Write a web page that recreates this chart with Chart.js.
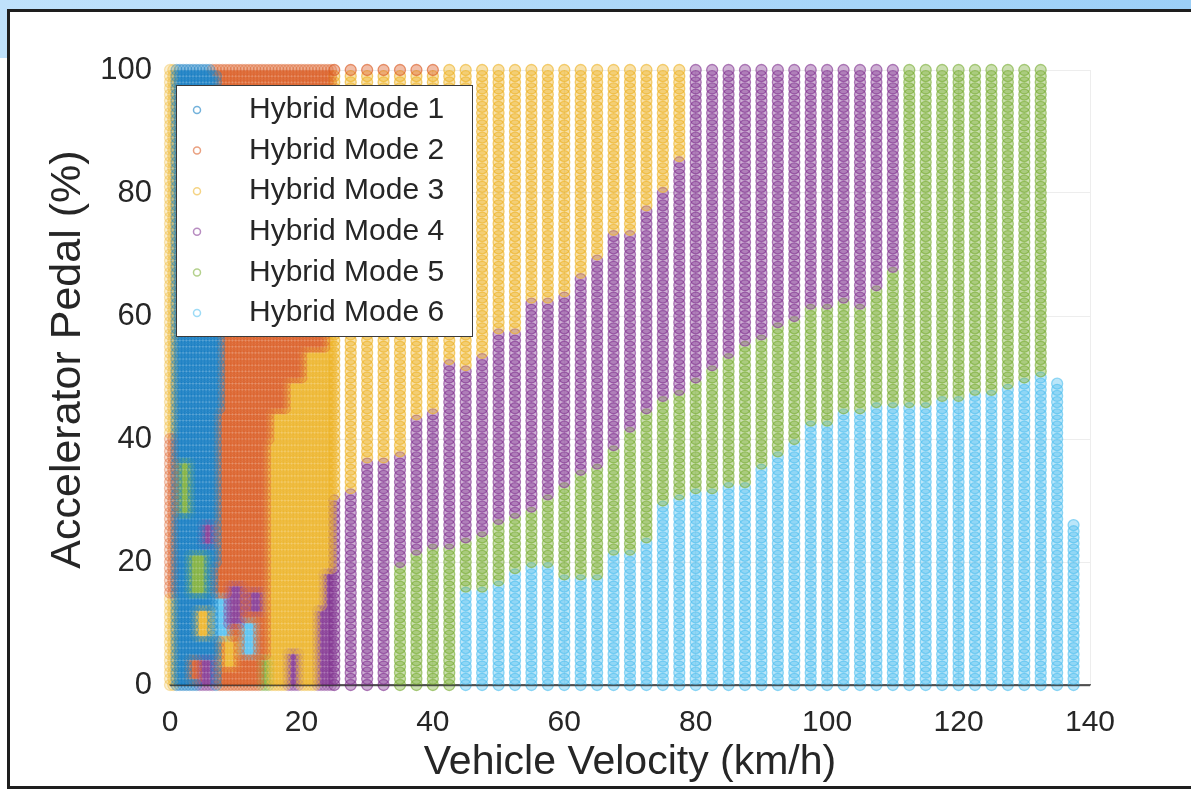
<!DOCTYPE html>
<html>
<head>
<meta charset="utf-8">
<script src="https://cdn.jsdelivr.net/npm/chart.js@4.4.1/dist/chart.umd.min.js"></script>
<style>
  html, body { margin: 0; padding: 0; width: 1191px; height: 789px; overflow: hidden; background: #fff; }
  #sky { position: absolute; left: 0; top: 0; width: 1191px; height: 58px; background: linear-gradient(90deg, #bfe1fb, #9ccff7); }
  #frame { position: absolute; left: 7px; top: 9px; width: 1195px; height: 774px; border: 3px solid #1e1e1e; background: #fff; }
  canvas { position: absolute; left: 0; top: 0; }
</style>
</head>
<body>
<div id="sky"></div>
<div id="frame"></div>
<canvas id="modeChart" width="1191" height="789"></canvas>
<script>
// legend names and matlab default colours
const modeLabels = ["Hybrid Mode 1", "Hybrid Mode 2", "Hybrid Mode 3", "Hybrid Mode 4", "Hybrid Mode 5", "Hybrid Mode 6"];
const modeColors = ["#0072BD", "#D95319", "#EDB120", "#7E2F8E", "#77AC30", "#4DBEEE"];
const xTicks = [0, 20, 40, 60, 80, 100, 120, 140];
const yTicks = [0, 20, 40, 60, 80, 100];

// low speed part (dense columns): mode 1 / mode 2 stop velocity per pedal band
const lowVelocity = [0, 0.5, 1, 1.5, 2, 2.5, 3, 3.5, 4, 4.5, 5, 5.5, 6, 6.5, 7, 7.5, 8, 8.5, 9, 9.5,
  10, 10.5, 11, 11.5, 12, 12.5, 13, 13.5, 14, 14.5, 15, 15.5, 16, 16.5, 17, 17.5, 18, 18.5, 19, 19.5,
  20, 20.5, 21, 21.5, 22, 22.5, 23, 23.5, 24, 24.5];
const mode3Edge = 1; // left-most strip is mode 3
const bandPedal = [0, 5, 10, 20, 40, 45, 50, 55, 60, 70, 90, 100];
const mode1End  = [7.5, 7.5, 7, 7.5, 7.5, 8, 8, 8, 8, 8, 7.5, 6.5];
const mode2End  = [14.5, 15, 15, 15, 15.5, 18, 20.5, 24, 24.5, 24.5, 25, 25];

// high speed part: one column every 2.5 km/h, upper pedal limit of each mode (-1 = none)
const highVelocity = [25, 27.5, 30, 32.5, 35, 37.5, 40, 42.5, 45, 47.5, 50, 52.5, 55, 57.5, 60, 62.5,
  65, 67.5, 70, 72.5, 75, 77.5, 80, 82.5, 85, 87.5, 90, 92.5, 95, 97.5, 100, 102.5, 105, 107.5, 110,
  112.5, 115, 117.5, 120, 122.5, 125, 127.5, 130, 132.5, 135, 137.5];
const mode6Top = [-1, -1, -1, -1, -1, -1, -1, -1, 15, 15, 16, 18, 19, 19, 17, 17, 17, 21, 21, 23, 29, 30,
  31, 31, 32, 32, 35, 37, 39, 42, 42, 44, 44, 45, 45, 45, 45, 46, 46, 47, 47, 48, 49, 50, 49, 26];
const mode5Top = [-1, -1, -1, -1, 19, 21, 22, 22, 23, 24, 26, 27, 28, 30, 32, 34, 35, 38, 41, 44, 46, 47,
  49, 51, 53, 55, 56, 58, 59, 61, 61, 62, 61, 64, 67, 100, 100, 100, 100, 100, 100, 100, 100, 100, 49, 26];
const mode4Top = [30, 31, 36, 36, 37, 43, 44, 52, 51, 53, 57, 57, 62, 62, 63, 66, 69, 73, 73, 77, 80, 85,
  100, 100, 100, 100, 100, 100, 100, 100, 100, 100, 100, 100, 100, -1, -1, -1, -1, -1, -1, -1, -1, -1, -1, -1];
const mode3Top = [100, 100, 100, 100, 100, 100, 100, 100, 100, 100, 100, 100, 100, 100, 100, 100, 100,
  100, 100, 100, 100, 100, -1, -1, -1, -1, -1, -1, -1, -1, -1, -1, -1, -1, -1, -1, -1, -1, -1, -1, -1, -1, -1, -1, -1, -1];

// scattered spots: [v from, v to, pedal from, pedal to, mode]
const patches = [
  [25, 40, 100, 100, 2],
  [0, 0.5, 15, 40, 2],
  [1.5, 3, 28, 36, 5],
  [5, 6.5, 23, 26, 4],
  [3, 5.5, 15, 21, 5],
  [4, 6, 8, 12, 3],
  [7, 9, 8, 14, 6],
  [9, 11, 10, 16, 4],
  [11, 13, 5, 10, 6],
  [8, 10, 3, 7, 3],
  [3, 4.5, 1, 4, 2],
  [4.5, 6.5, 0, 4, 4],
  [12, 14, 12, 15, 4],
  [14, 15, 0, 4, 5],
  [18, 19.5, 0, 5, 4],
  [22.5, 24.5, 0, 12, 4],
  [23.5, 24.5, 12, 18, 4]
];

const pedalGrid = Array.from({ length: 101 }, (_, i) => i);

function lowMode(v, p) {
  if (v < mode3Edge) return 3;
  let k = 0;
  bandPedal.forEach((b, i) => { if (p >= b) k = i; });
  if (v < mode1End[k]) return 1;
  if (v < mode2End[k]) return 2;
  return 3;
}

function highMode(i, p) {
  if (p <= mode6Top[i]) return 6;
  if (p <= mode5Top[i]) return 5;
  if (p <= mode4Top[i]) return 4;
  if (p <= mode3Top[i]) return 3;
  return 0;
}

function patchMode(v, p, m) {
  patches.forEach(r => {
    if (v >= r[0] && v <= r[1] && p >= r[2] && p <= r[3]) m = r[4];
  });
  return m;
}

const points = [[], [], [], [], [], []];
lowVelocity.forEach(v => {
  pedalGrid.forEach(p => {
    const m = patchMode(v, p, lowMode(v, p));
    points[m - 1].push({ x: v, y: p });
  });
});
highVelocity.forEach((v, i) => {
  pedalGrid.forEach(p => {
    let m = highMode(i, p);
    if (m === 0) return;
    m = patchMode(v, p, m);
    points[m - 1].push({ x: v, y: p });
  });
});

function rgba(hex, a) {
  const n = parseInt(hex.slice(1), 16);
  return `rgba(${(n >> 16) & 255}, ${(n >> 8) & 255}, ${n & 255}, ${a})`;
}

// legend drawn as a box inside the axes, like matlab does
const legendBox = {
  id: 'legendBox',
  afterDatasetsDraw(chart) {
    const { ctx, chartArea } = chart;
    const x = chartArea.left + 6, y = chartArea.top + 15, w = 296, h = 251;
    ctx.save();
    ctx.fillStyle = '#fff';
    ctx.fillRect(x, y, w, h);
    ctx.strokeStyle = '#3a3a3a';
    ctx.lineWidth = 1;
    ctx.strokeRect(x + 0.5, y + 0.5, w, h);
    ctx.font = '30px "Liberation Sans", Arial, sans-serif';
    ctx.textBaseline = 'middle';
    chart.data.datasets.forEach((ds, i) => {
      const cy = y + 25 + i * 40.6;
      ctx.beginPath();
      ctx.arc(x + 21, cy, 3.5, 0, Math.PI * 2);
      ctx.strokeStyle = rgba(modeColors[i], 0.55);
      ctx.lineWidth = 1.5;
      ctx.stroke();
      ctx.fillStyle = '#262626';
      ctx.fillText(ds.label, x + 73, cy);
    });
    // bottom axis line over the markers
    ctx.beginPath();
    ctx.moveTo(chartArea.left, chartArea.bottom + 0.5);
    ctx.lineTo(chartArea.right, chartArea.bottom + 0.5);
    ctx.strokeStyle = 'rgba(40,40,40,0.7)';
    ctx.lineWidth = 1.5;
    ctx.stroke();
    ctx.restore();
  }
};

// dense low speed markers pile up, so they get a lighter alpha
const lowSpeed = c => c.raw && c.raw.x < 25;

const ctx = document.getElementById('modeChart').getContext('2d');
new Chart(ctx, {
  type: 'scatter',
  data: {
    datasets: modeLabels.map((label, i) => ({
      label: label,
      data: points[i],
      pointStyle: 'circle',
      pointRadius: 5.5,
      pointBorderWidth: 1.3,
      borderColor: c => rgba(modeColors[i], lowSpeed(c) ? 0.32 : 0.6),
      backgroundColor: c => rgba(modeColors[i], lowSpeed(c) ? 0.2 : 0.38),
      clip: false
    }))
  },
  options: {
    responsive: false,
    animation: false,
    events: [],
    layout: { padding: { left: 0, right: 101, top: 70, bottom: 0 } },
    plugins: {
      legend: { display: false },
      tooltip: { enabled: false }
    },
    scales: {
      x: {
        type: 'linear',
        min: 0,
        max: 140,
        afterFit: s => { s.height = 104; },
        afterBuildTicks: s => { s.ticks = xTicks.map(v => ({ value: v })); },
        grid: { color: 'rgba(0,0,0,0.07)', drawTicks: false },
        border: { color: 'rgba(40,40,40,0.7)', width: 1.5 },
        ticks: { color: '#262626', padding: 20, font: { family: 'Liberation Sans, Arial, sans-serif', size: 30 } },
        title: {
          display: true,
          text: 'Vehicle Velocity (km/h)',
          color: '#262626',
          font: { family: 'Liberation Sans, Arial, sans-serif', size: 41 },
          padding: { top: 0, bottom: 2 }
        }
      },
      y: {
        type: 'linear',
        min: 0,
        max: 100,
        afterFit: s => { s.width = 170; },
        afterBuildTicks: s => { s.ticks = yTicks.map(v => ({ value: v })); },
        grid: { color: 'rgba(0,0,0,0.07)', drawTicks: false },
        border: { display: false },
        ticks: { color: '#262626', padding: 18, font: { family: 'Liberation Sans, Arial, sans-serif', size: 31 } },
        title: {
          display: true,
          text: '   Accelerator Pedal (%)',
          color: '#262626',
          font: { family: 'Liberation Sans, Arial, sans-serif', size: 43 },
          padding: { top: 42, bottom: 0 }
        }
      }
    }
  },
  plugins: [legendBox]
});
</script>
</body>
</html>
